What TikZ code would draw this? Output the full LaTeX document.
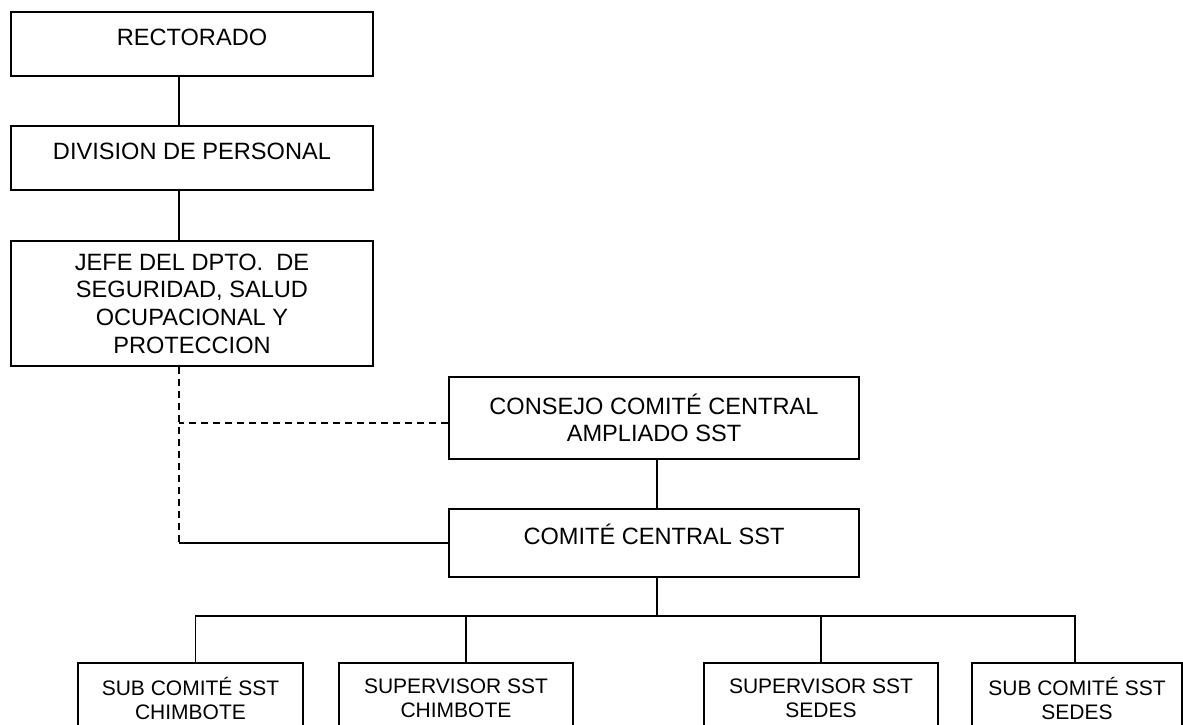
\documentclass[tikz,border=0pt]{standalone}
\usepackage{fontspec}
\setmainfont{Liberation Sans}
\def\boxW{181pt}
\def\wideW{205pt}
\tikzset{
  chart/.style={x=0.5pt,y=-0.5pt,line width=0.9pt},
  box/.style={draw,inner sep=0pt,align=center,
    font=\fontsize{11.8}{13.8}\selectfont},
  unit/.style={box,minimum height=35.5pt,
    font=\fontsize{10.5}{12}\selectfont},
  raised/.style={text height=9pt,text depth=8pt},
  link/.style={dash pattern=on 3.5pt off 2.5pt}
}
\begin{document}
\begin{tikzpicture}[chart]
    \clip[use as bounding box] (0,0) rectangle (1183,724);

    % left column
    \node[box,raised,minimum width=\boxW,minimum height=32pt] (rect) at (192,44) {RECTORADO};
    \node[box,raised,minimum width=\boxW,minimum height=32pt] (div) at (192,158) {DIVISION DE PERSONAL};
    \node[box,minimum width=\boxW,minimum height=62.5pt] (jefe) at (192,303.5)
      {JEFE DEL DPTO.\ \ DE\\SEGURIDAD, SALUD\\OCUPACIONAL Y\\PROTECCION};

    % committees
    \node[box,minimum width=\wideW,minimum height=41pt] (consejo) at (654,418)
      {CONSEJO COMITÉ CENTRAL\\AMPLIADO SST};
    \node[box,raised,minimum width=\wideW,minimum height=34pt] (comite) at (654,543) {COMITÉ CENTRAL SST};

    % units
    \node[unit,minimum width=112.5pt] (subchim) at (190.5,698.5) {SUB COMITÉ SST\\CHIMBOTE};
    \node[unit,minimum width=117pt] (supchim) at (456,698.5) {SUPERVISOR SST\\CHIMBOTE};
    \node[unit,minimum width=117pt] (supsedes) at (821,698.5) {SUPERVISOR SST\\SEDES};
    \node[unit,minimum width=105pt] (subsedes) at (1077,698.5) {SUB COMITÉ SST\\SEDES};

    \coordinate (spine) at ([xshift=-6.5pt]jefe.center);
    \coordinate (tap) at ([yshift=-2.5pt]consejo.west);
    \coordinate (bus) at ([xshift=1.5pt,yshift=-19pt]comite.south);
    \coordinate (d1) at ([xshift=2.5pt]subchim.north);
    \coordinate (d2) at ([xshift=5pt]supchim.north);
    \coordinate (d4) at ([xshift=-1pt]subsedes.north);

    \draw (rect.south -| spine) -- (div.north -| spine);
    \draw (div.south -| spine) -- (jefe.north -| spine);
    \draw[link] (jefe.south -| spine) -- (spine |- comite.west);
    \draw[link] (tap) -- (tap -| spine);
    \draw (spine |- comite.west) -- (comite.west);
    \draw (consejo.south -| bus) -- (comite.north -| bus);
    \draw (comite.south -| bus) -- (bus);
    \draw (d1) |- (bus) -| (d4);
    \draw (d2) -- (d2 |- bus);
    \draw (supsedes.north) -- (supsedes.north |- bus);
\end{tikzpicture}
\end{document}
